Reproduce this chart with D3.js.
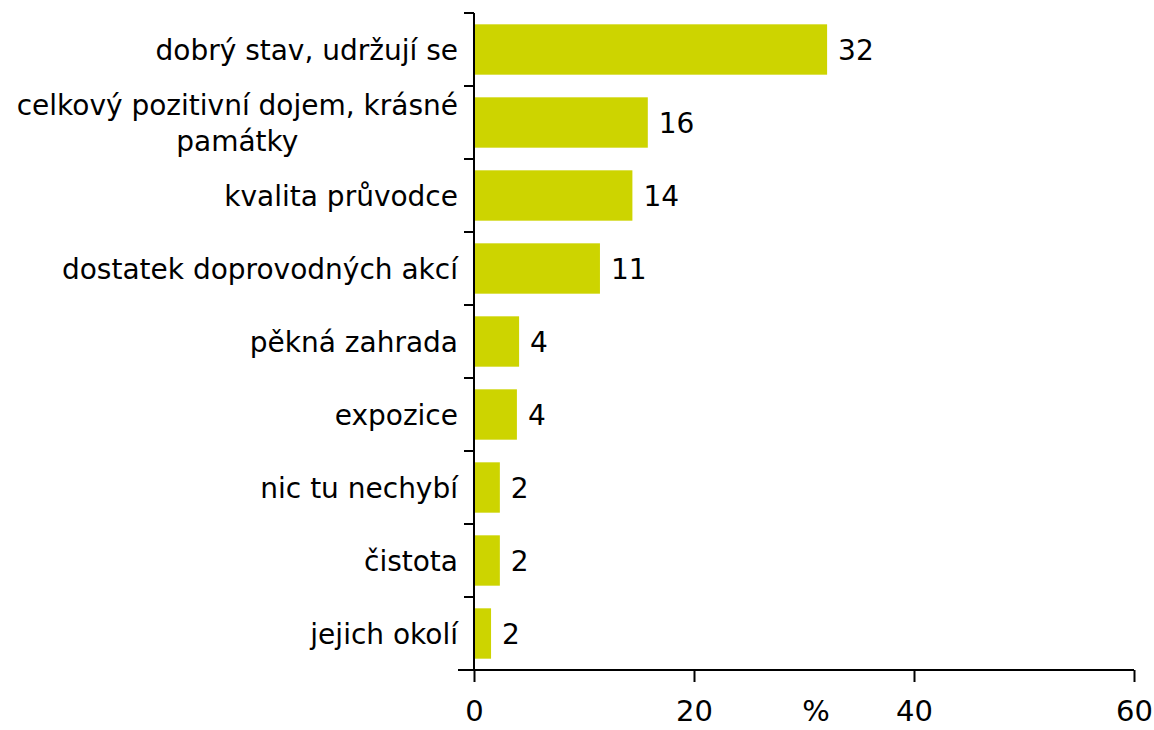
<!DOCTYPE html>
<meta charset='utf-8'>
<style>
  body { margin: 0; background: #fff; font-family: 'DejaVu Sans', Verdana, sans-serif; }
  .bar { fill: #cdd400; }
  .axis path, .axis line { stroke: #000; stroke-width: 2; }
  .axis text { fill: #000; }
</style>
<body>
<div id='viz'></div>
<script src='https://d3js.org/d3.v7.min.js'></script>
<script>

// categories, top to bottom ('|' marks a line break)
var categories = ['dobrý stav, udržují se', 'celkový pozitivní dojem, krásné|památky',
                  'kvalita průvodce', 'dostatek doprovodných akcí', 'pěkná zahrada',
                  'expozice', 'nic tu nechybí', 'čistota', 'jejich okolí'];
// bar lengths (%)
var values = [32.1, 15.8, 14.4, 11.45, 4.1, 3.9, 2.35, 2.35, 1.55];
// numbers printed next to the bars
var valueLabels = ['32', '16', '14', '11', '4', '4', '2', '2', '2'];
var xTicks = [0, 20, 40, 60];

var margin = {top: 13, right: 20, bottom: 60, left: 474},
    width = 1134 - margin.left,
    height = 670 - margin.top;

var svg = d3.select('#viz').append('svg')
    .attr('width', 1154)
    .attr('height', 730);

var g = svg.append('g')
    .attr('transform', 'translate(' + margin.left + ',' + margin.top + ')');

var x = d3.scaleLinear().domain([0, 60]).range([0, width]);
var y = d3.scaleBand().domain(categories).range([0, height]).paddingInner(0.31).paddingOuter(0.155);

// bars
g.selectAll('.bar')
    .data(values)
    .enter().append('rect')
    .attr('class', 'bar')
    .attr('x', 0)
    .attr('y', function(d, i) { return y(categories[i]); })
    .attr('width', function(d) { return x(d); })
    .attr('height', y.bandwidth());

// value labels
g.selectAll('.valText')
    .data(values)
    .enter().append('text')
    .attr('x', function(d) { return x(d) + 11; })
    .attr('y', function(d, i) { return y(categories[i]) + y.bandwidth() / 2; })
    .attr('dy', '0.36em')
    .attr('font-size', 28)
    .text(function(d, i) { return valueLabels[i]; });

// y axis: ticks at category boundaries
var step = height / categories.length;
var yAxis = g.append('g').attr('class', 'axis');
yAxis.append('line').attr('x1', 0).attr('x2', 0).attr('y1', 0).attr('y2', height);
yAxis.selectAll('.tk')
    .data(d3.range(categories.length))
    .enter().append('line')
    .attr('x1', -10).attr('x2', 0)
    .attr('y1', function(i) { return i * step; })
    .attr('y2', function(i) { return i * step; });

// category labels (multi-line ones centered, block right-aligned)
var labels = g.append('g');
categories.forEach(function(c, i) {
  var lines = c.split('|');
  var cy = y(c) + y.bandwidth() / 2;
  var t = labels.append('text')
      .attr('font-size', 28)
      .attr('fill', '#000');
  lines.forEach(function(l, j) {
    t.append('tspan')
      .attr('x', 0)
      .attr('y', cy + (j - (lines.length - 1) / 2) * 36)
      .attr('dy', '0.36em')
      .text(l);
  });
  if (lines.length === 1) {
    t.attr('text-anchor', 'end').selectAll('tspan').attr('x', -16);
  } else {
    var w = t.node().getBBox().width;
    t.attr('text-anchor', 'middle').selectAll('tspan').attr('x', -16 - w / 2);
  }
});

// x axis
var xAxis = g.append('g')
    .attr('class', 'axis')
    .attr('transform', 'translate(0,' + height + ')')
    .call(d3.axisBottom(x).tickValues(xTicks).tickSize(12).tickSizeOuter(0).tickPadding(18));
xAxis.select('.domain').attr('d', 'M-16,0H' + width);
xAxis.selectAll('text').attr('font-size', 29).attr('font-family', 'DejaVu Sans, sans-serif');

g.append('text')
    .attr('x', x(31.1))
    .attr('y', height + 51)
    .attr('text-anchor', 'middle')
    .attr('font-size', 29)
    .text('%');

</script>
</body>
